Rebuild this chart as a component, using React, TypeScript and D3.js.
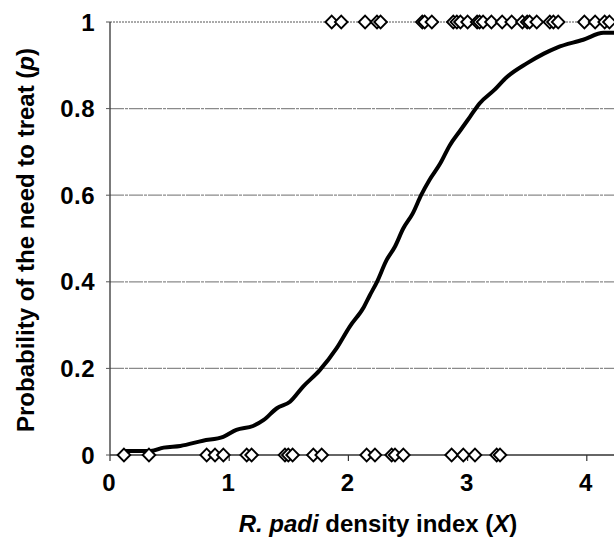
import React from "react";
import * as d3 from "d3";

const yTicks = [0, 0.2, 0.4, 0.6, 0.8, 1];
const yTickLabels = ["0", "0.2", "0.4", "0.6", "0.8", "1"];
const xTicks = [0, 1, 2, 3, 4];
const xTickLabels = ["0", "1", "2", "3", "4"];

// observed plots with p = 0 (no need to treat)
const obsZeroX = [0.117, 0.327, 0.811, 0.881, 0.951, 1.147, 1.188, 1.468, 1.496, 1.532, 1.706, 1.776, 2.153, 2.223, 2.363, 2.391, 2.461, 2.866, 2.964, 3.062, 3.244, 3.272];
// observed plots with p = 1 (need to treat)
const obsOneX = [1.86, 1.94, 2.14, 2.24, 2.27, 2.62, 2.64, 2.7, 2.88, 2.91, 2.94, 3.0, 3.08, 3.1, 3.13, 3.2, 3.29, 3.37, 3.46, 3.5, 3.52, 3.58, 3.69, 3.72, 3.76, 3.98, 4.07, 4.15, 4.19];

// fitted curve
const curveX = [0.11, 0.34, 0.45, 0.59, 0.78, 0.95, 1.06, 1.2, 1.29, 1.4, 1.51, 1.62, 1.76, 1.9, 2.01, 2.13, 2.18, 2.24, 2.32, 2.39, 2.46, 2.54, 2.61, 2.68, 2.77, 2.85, 2.94, 3.02, 3.1, 3.22, 3.33, 3.5, 3.64, 3.75, 3.97, 4.14, 4.25];
const curveP = [0.009, 0.009, 0.017, 0.021, 0.033, 0.042, 0.058, 0.067, 0.081, 0.108, 0.123, 0.158, 0.196, 0.246, 0.296, 0.342, 0.369, 0.4, 0.45, 0.481, 0.523, 0.558, 0.6, 0.635, 0.673, 0.715, 0.75, 0.781, 0.812, 0.842, 0.873, 0.905, 0.927, 0.941, 0.959, 0.975, 0.975];

const W = 614;
const H = 550;
const FONT = "'Liberation Sans', Arial, Helvetica, sans-serif";

export default function App() {
  const x = d3.scaleLinear().domain([0, 1]).range([110, 229.2]);
  const y = d3.scaleLinear().domain([0, 1]).range([455, 22]);
  const line = d3
    .line<number>()
    .x((_, i) => x(curveX[i]))
    .y((d) => y(d))
    .curve(d3.curveMonotoneX);

  const diamond = (cx: number, cy: number, r: number) =>
    `M${cx},${cy - r}L${cx + r},${cy}L${cx},${cy + r}L${cx - r},${cy}Z`;

  return (
    <svg
      width={W}
      height={H}
      style={{ position: "absolute", left: 0, top: 0, background: "#fff" }}
      fontFamily={FONT}
    >
      <rect x={0} y={0} width={W} height={H} fill="#fff" />
      {/* grid lines */}
      {yTicks.slice(1, -1).map((t) => (
        <line key={t} x1={x(0)} x2={W} y1={y(t)} y2={y(t)} stroke="#8a8a8a" strokeWidth={1.2} strokeDasharray="14,1,3,1" />
      ))}
      {/* top border */}
      <line x1={x(0)} x2={W} y1={y(1)} y2={y(1)} stroke="#555" strokeWidth={1} strokeDasharray="2,1" />
      {/* y axis */}
      <line x1={x(0)} x2={x(0)} y1={y(1)} y2={y(0)} stroke="#333" strokeWidth={1.3} />
      {yTicks.map((t) => (
        <line key={"yt" + t} x1={x(0) - 4} x2={x(0)} y1={y(t)} y2={y(t)} stroke="#555" strokeWidth={1} />
      ))}
      {/* x axis */}
      <line x1={x(0)} x2={W} y1={y(0)} y2={y(0)} stroke="#333" strokeWidth={1.3} />
      {xTicks.map((t) => (
        <line key={"xt" + t} x1={x(t)} x2={x(t)} y1={y(0)} y2={y(0) + 6} stroke="#333" strokeWidth={1.2} />
      ))}
      {/* curve */}
      <path d={line(curveP) || ""} fill="none" stroke="#000" strokeWidth={4} strokeLinejoin="round" />
      {/* observations */}
      {obsZeroX.map((v, i) => (
        <path key={"z" + i} d={diamond(x(v), y(0), 6.3)} fill="#fff" stroke="#000" strokeWidth={1.9} />
      ))}
      {obsOneX.map((v, i) => (
        <path key={"o" + i} d={diamond(x(v), y(1), 6.3)} fill="#fff" stroke="#000" strokeWidth={1.9} />
      ))}
      {/* y tick labels */}
      {yTicks.map((t, i) => (
        <text key={"yl" + t} x={95} y={y(t)} dy="0.36em" textAnchor="end" fontSize={24} fontWeight="bold" fill="#000" letterSpacing={0.5}>
          {yTickLabels[i]}
        </text>
      ))}
      {/* x tick labels */}
      {xTicks.map((t, i) => (
        <text key={"xl" + t} x={x(t) - 1} y={491} textAnchor="middle" fontSize={24} fontWeight="bold" fill="#000">
          {xTickLabels[i]}
        </text>
      ))}
      {/* axis titles */}
      <text x={378} y={532} textAnchor="middle" fontSize={24} fontWeight="bold" fill="#000">
        <tspan fontStyle="italic">R. padi</tspan>
        <tspan> density index (</tspan>
        <tspan fontStyle="italic">X</tspan>
        <tspan>)</tspan>
      </text>
      <text
        transform={`translate(34,240) rotate(-90)`}
        textAnchor="middle"
        fontSize={24}
        fontWeight="bold"
        fill="#000"
      >
        <tspan>Probability of the need to treat (</tspan>
        <tspan fontStyle="italic">p</tspan>
        <tspan>)</tspan>
      </text>
    </svg>
  );
}
